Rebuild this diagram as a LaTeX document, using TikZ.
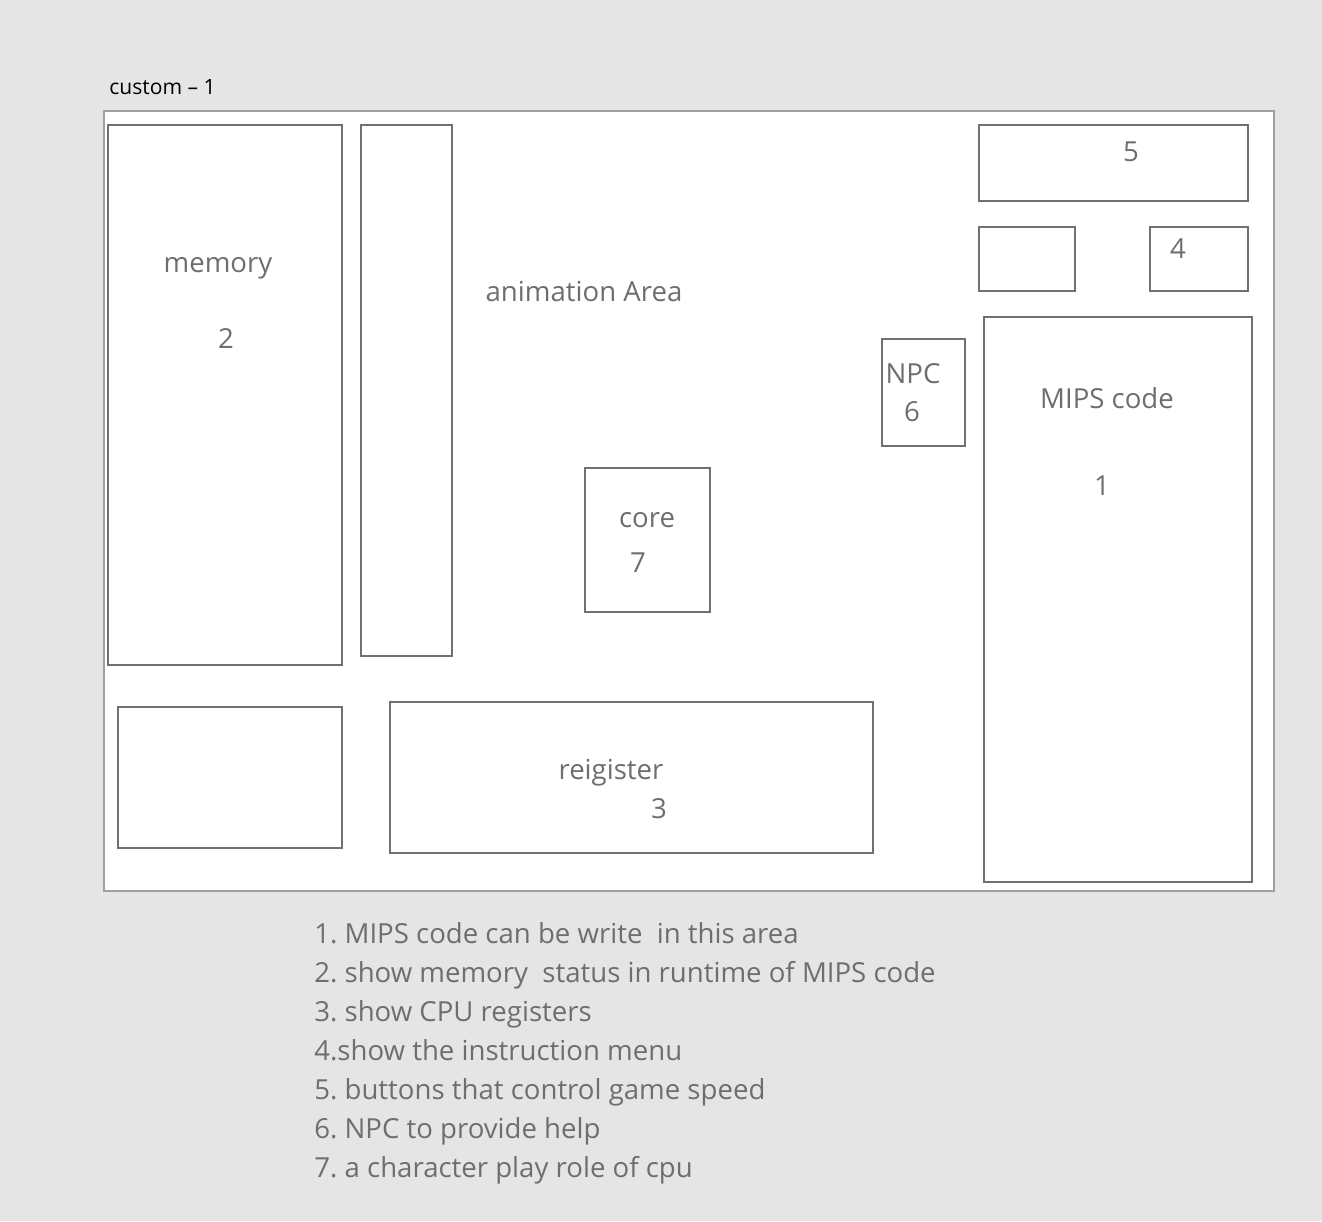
\documentclass[tikz,border=0pt]{standalone}
\usepackage{fontspec}
\setmainfont{Open Sans}
\usepackage{xcolor}
\definecolor{bgcol}{HTML}{E5E5E5}
\definecolor{linecol}{HTML}{707070}
\definecolor{framecol}{HTML}{A0A0A0}
\definecolor{txtcol}{HTML}{6E6E6E}
\frenchspacing
\tikzset{panel/.style={draw=linecol, line width=1.2pt},
 lbl/.style={text=txtcol, font=\fontsize{15.7}{18}\selectfont, inner sep=0pt, anchor=mid, yshift=-2.3pt},
 item/.style={lbl, anchor=mid west},
}

\begin{document}
\begin{tikzpicture}[x=0.02cm, y=-0.02cm]
        \fill[bgcol] (0, 0) rectangle (1322, 1221);
        \useasboundingbox (0, 0) rectangle (1322, 1221);
        \node[anchor=mid west, inner sep=0pt, yshift=-1.7pt, font=\fontsize{12}{14}\selectfont] (title) at (109, 87) {custom -- 1};
        \draw[fill=white, draw=framecol, line width=1pt] (104, 111) rectangle (1274, 891);

        % left column
        \draw[panel] (108, 125) rectangle (342, 665);
        \node[lbl] (memory) at (218, 264) {memory};
        \node[lbl] (n2) at (226, 340) {2};
        \draw[panel] (361, 125) rectangle (452, 656);
        \draw[panel] (118, 707) rectangle (342, 848);

        % middle
        \node[lbl] (anim) at (584, 293) {animation Area};
        \draw[panel] (585, 468) rectangle (710, 612);
        \node[lbl] (core) at (647, 519) {core};
        \node[lbl] (n7) at (638, 564) {7};
        \draw[panel] (390, 702) rectangle (873, 853);
        \node[lbl] (reg) at (611, 771) {reigister};
        \node[lbl] (n3) at (659, 810) {3};
        \draw[panel] (882, 339) rectangle (965, 446);
        \node[lbl] (npc) at (913, 375) {NPC};
        \node[lbl] (n6) at (912, 413) {6};

        % right column
        \draw[panel] (979, 125) rectangle (1248, 201);
        \node[lbl] (n5) at (1131, 153) {5};
        \draw[panel] (979, 227) rectangle (1075, 291);
        \draw[panel] (1150, 227) rectangle (1248, 291);
        \node[lbl] (n4) at (1178, 250) {4};
        \draw[panel] (984, 317) rectangle (1252, 882);
        \node[lbl] (mips) at (1107, 400) {MIPS code};
        \node[lbl] (n1) at (1102, 487) {1};

        % notes
        \node[item] (note1) at (314, 935) {1. MIPS code can be write \ in this area};
        \node[item] (note2) at (314, 974) {2. show memory \ status in runtime of MIPS code};
        \node[item] (note3) at (314, 1013) {3. show CPU registers};
        \node[item] (note4) at (314, 1052) {4.show the instruction menu};
        \node[item] (note5) at (314, 1091) {5. buttons that control game speed};
        \node[item] (note6) at (314, 1130) {6. NPC to provide help};
        \node[item] (note7) at (314, 1169) {7. a character play role of cpu};
\end{tikzpicture}
\end{document}
